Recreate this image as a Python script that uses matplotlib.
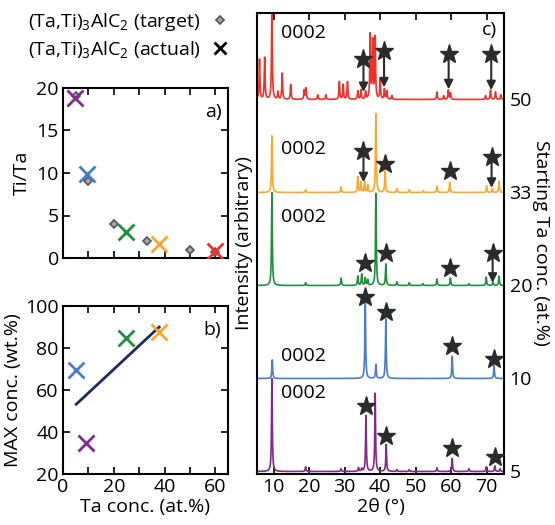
import numpy as np
import matplotlib
matplotlib.use("Agg")
import matplotlib.pyplot as plt
from matplotlib.lines import Line2D

plt.rcParams['font.family'] = ['Open Sans', 'DejaVu Sans']
plt.rcParams['mathtext.fontset'] = 'custom'
plt.rcParams['mathtext.rm'] = 'Open Sans'
plt.rcParams['mathtext.it'] = 'Open Sans'
plt.rcParams['font.size'] = 14

# ---------------- data ----------------
series_names = ['5', '10', '20', '33', '50']
series_colors = ['#84278f', '#4a7bd0', '#1f8f3c', '#ffa52c', '#f2302a']

# panel a: Ti/Ta ratio
target_ta = [5, 10, 20, 33, 50, 60]
target_ratio = [19.0, 9.0, 4.0, 2.03, 1.0, 0.67]
actual_ta = [4.9, 9.6, 24.7, 37.9, 59.7]
actual_ratio = [18.8, 9.9, 3.1, 1.7, 0.8]

# panel b: MAX concentration
maxc_ta = [5.2, 9.1, 24.7, 37.7]
maxc_wt = [69.5, 34.8, 84.8, 87.8]
fit_x = [5.2, 37.9]
fit_y = [53.2, 90.0]

# panel c: XRD peaks (2theta, relative height) per series
peaks_5 = ([9.5, 19.0, 29.0, 33.9, 34.8, 36.0, 38.6, 41.7, 44.7, 48.2, 56.0, 60.3, 65.0, 69.9, 72.3, 73.8],
           [1.0, 0.05, 0.03, 0.04, 0.03, 0.60, 0.84, 0.29, 0.02, 0.02, 0.04, 0.14, 0.03, 0.05, 0.06, 0.03])
peaks_10 = ([9.6, 35.8, 38.8, 41.6, 60.3, 72.1],
            [0.20, 0.86, 0.15, 0.64, 0.24, 0.14])
peaks_20 = ([9.5, 19.0, 29.0, 33.7, 34.8, 35.8, 36.5, 38.8, 41.6, 44.7, 48.2, 52.1, 56.0, 59.8, 65.0, 69.9, 71.8, 73.5],
            [1.0, 0.03, 0.08, 0.10, 0.12, 0.08, 0.06, 0.99, 0.23, 0.04, 0.03, 0.02, 0.07, 0.08, 0.02, 0.09, 0.04, 0.10])
peaks_33 = ([9.5, 19.0, 29.0, 33.7, 34.6, 35.6, 36.5, 38.8, 41.4, 44.7, 48.2, 52.1, 56.0, 59.6, 70.0, 71.6, 73.5],
            [0.61, 0.03, 0.06, 0.17, 0.11, 0.11, 0.08, 0.85, 0.23, 0.04, 0.03, 0.02, 0.07, 0.11, 0.07, 0.04, 0.12])
peaks_50 = ([6.0, 7.45, 9.5, 11.2, 12.4, 14.8, 18.6, 19.1, 22.4, 24.7, 28.5, 29.6, 30.8, 33.7, 34.6, 35.9,
             37.2, 37.9, 38.6, 40.0, 41.2, 41.9, 43.3, 56.0, 57.9, 59.2, 59.8, 69.7, 71.1, 72.5, 74.0],
            [0.43, 0.45, 1.0, 0.08, 0.28, 0.16, 0.10, 0.12, 0.05, 0.05, 0.19, 0.16, 0.19, 0.09, 0.10, 0.08,
             0.69, 0.62, 0.66, 0.22, 0.11, 0.09, 0.04, 0.08, 0.04, 0.10, 0.07, 0.04, 0.10, 0.08, 0.05])
all_peaks = [peaks_5, peaks_10, peaks_20, peaks_33, peaks_50]

# stars: (2theta, star height, arrow end height or None)
stars_5 = [(35.9, 0.70, None), (41.7, 0.38, None), (60.3, 0.25, None), (72.3, 0.16, None)]
stars_10 = [(35.8, 0.88, None), (41.6, 0.71, None), (60.3, 0.35, None), (72.1, 0.21, None)]
stars_20 = [(35.6, 0.24, None), (41.6, 0.35, None), (59.6, 0.19, None), (71.7, 0.35, 0.03)]
stars_33 = [(35.3, 0.45, 0.11), (41.4, 0.31, None), (59.6, 0.23, None), (71.4, 0.38, 0.05)]
stars_50 = [(35.3, 0.44, 0.08), (41.1, 0.52, 0.13), (59.3, 0.49, 0.11), (71.3, 0.49, 0.10)]
all_stars = [stars_5, stars_10, stars_20, stars_33, stars_50]
label_0002_y = [0.84, 0.24, 0.74, 0.47, 0.71]

# ---------------- figure ----------------
fig = plt.figure(figsize=(5.55, 5.25), dpi=100)
W, H = 555, 525
def box(l, r, t, b):
    return [l / W, 1 - b / H, (r - l) / W, (b - t) / H]

axa = fig.add_axes(box(63, 228, 88, 258))
axb = fig.add_axes(box(63, 228, 306, 474))
axc = fig.add_axes(box(257, 504, 13, 474))

for ax in (axa, axb, axc):
    for s in ax.spines.values():
        s.set_linewidth(1.5)
    ax.tick_params(direction='in', length=5, width=1.2, top=True, right=True, labelsize=14, pad=3)

# panel a
axa.plot(target_ta, target_ratio, ls='none', marker='D', ms=4.5, mfc='#a8a8a8', mec='#555555', mew=1.2, zorder=3)
for x, y, c in zip(actual_ta, actual_ratio, series_colors):
    axa.plot([x], [y], ls='none', marker='x', ms=11, mew=2, color=c, zorder=4)
axa.set_xlim(0, 65)
axa.set_ylim(0, 20)
axa.set_xticks(np.arange(0, 61, 10))
axa.set_yticks([0, 5, 10, 15, 20])
axa.tick_params(labelbottom=False)
axa.set_ylabel('Ti/Ta', labelpad=4)
axa.text(0.96, 0.86, 'a)', transform=axa.transAxes, ha='right', va='center')

# panel b
axb.plot(fit_x, fit_y, color='#1c2b5a', lw=2, zorder=2)
bcols = [series_colors[1], series_colors[0], series_colors[2], series_colors[3]]
for x, y, c in zip(maxc_ta, maxc_wt, bcols):
    axb.plot([x], [y], ls='none', marker='x', ms=11, mew=2, color=c, zorder=4)
axb.set_xlim(0, 65)
axb.set_ylim(20, 100)
axb.set_xticks(np.arange(0, 61, 10))
axb.set_xticklabels(['0', '', '20', '', '40', '', '60'])
axb.set_yticks([20, 40, 60, 80, 100])
axb.set_ylabel('MAX conc. (wt.%)', labelpad=2)
axb.set_xlabel('Ta conc. (at.%)', labelpad=1)
axb.text(0.96, 0.86, 'b)', transform=axb.transAxes, ha='right', va='center')

# panel c
tt = np.arange(5.0, 75.5, 0.02)
hw = 0.13
for i, (pk, col) in enumerate(zip(all_peaks, series_colors)):
    pos, hts = pk
    yy = np.zeros_like(tt)
    for p, h in zip(pos, hts):
        yy += h / (1 + ((tt - p) / hw) ** 2)
    axc.plot(tt, yy + i, color=col, lw=1.2, zorder=2)
    for (sx, sy, ae) in all_stars[i]:
        if ae is not None:
            axc.annotate('', xy=(sx, ae + i), xytext=(sx, sy + i),
                         arrowprops=dict(arrowstyle='-|>', color='#2b2b2b', lw=1.5, mutation_scale=13,
                                         shrinkA=0, shrinkB=0), zorder=4)
        axc.plot([sx], [sy + i], marker='*', ms=14, color='#2b2b2b', mec='#2b2b2b', zorder=5)
    axc.text(12.0, label_0002_y[i] + i, '0002', ha='left', va='center', fontsize=14)

axc.set_xlim(5.3, 74.9)
axc.set_ylim(-0.027, 4.93)
axc.set_xticks(np.arange(10, 71, 10))
axc.set_yticks([0, 1, 2, 3, 4])
axc.set_yticklabels(series_names)
axc.tick_params(axis='y', left=False, labelleft=False, right=True, labelright=True, length=0, pad=4)
axc.set_xlabel('2θ (°)', labelpad=1)
axc.set_ylabel('Intensity (arbitrary)', labelpad=3)
axc.text(0.97, 0.963, 'c)', transform=axc.transAxes, ha='right', va='center')
fig.text(541 / W, 1 - 243 / H, 'Starting Ta conc. (at.%)', rotation=-90, ha='center', va='center', fontsize=14)

# legend
h1 = Line2D([], [], ls='none', marker='D', ms=4, mfc='#a8a8a8', mec='#555555', mew=1.2)
h2 = Line2D([], [], ls='none', marker='x', ms=9, mew=2, color='black')
fig.legend([h1, h2], [r'(Ta,Ti)$_3$AlC$_2$ (target)', r'(Ta,Ti)$_3$AlC$_2$ (actual)'],
           loc='upper left', bbox_to_anchor=(20 / W, 1 - 3 / H), frameon=False, markerfirst=False,
           handlelength=1.0, handletextpad=0.5, labelspacing=0.3, fontsize=14, borderaxespad=0)

fig.savefig('out.png', dpi=100)
